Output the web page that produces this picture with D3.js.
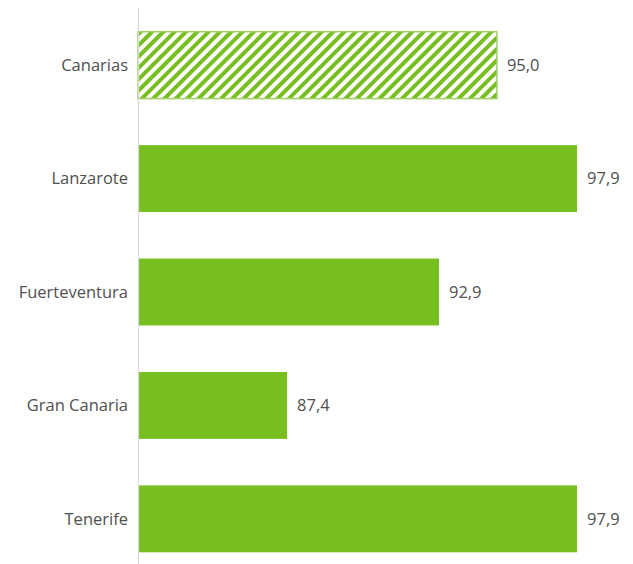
<!DOCTYPE html>
<html lang="es">
<head>
<meta charset="UTF-8">
<title>Canarias</title>
<script src="https://d3js.org/d3.v7.min.js"></script>
<style>
    body { margin: 0; background: #fff; }
    svg text {
        font-family: "Open Sans", sans-serif;
        font-size: 16.5px;
        fill: #505050;
    }
</style>
</head>
<body>
<div id="chart"></div>
<script>
    var islands = ["Canarias", "Lanzarote", "Fuerteventura", "Gran Canaria", "Tenerife"];
    var values = [95.0, 97.9, 92.9, 87.4, 97.9];
    var hatched = ["Canarias"];

    var width = 633, height = 564;
    var axisX = 138;

    var svg = d3.select("#chart").append("svg")
        .attr("width", width)
        .attr("height", height);

    // diagonal hatch for the regional total
    var defs = svg.append("defs");
    var pat = defs.append("pattern")
        .attr("id", "hatch")
        .attr("patternUnits", "userSpaceOnUse")
        .attr("width", 8)
        .attr("height", 8)
        .attr("patternTransform", "rotate(45)");
    pat.append("rect").attr("width", 8).attr("height", 8).attr("fill", "#fff");
    pat.append("rect").attr("width", 4).attr("height", 8).attr("fill", "#78be20");

    var x = d3.scaleLinear()
        .domain([82, 100])
        .range([axisX, 635]);

    var y = d3.scaleBand()
        .domain(islands)
        .range([9, 575])
        .paddingInner(0.41)
        .paddingOuter(0.2);

    var data = islands.map((d, i) => ({name: d, value: values[i]}));

    svg.append("g")
        .selectAll("rect")
        .data(data)
        .enter().append("rect")
            .attr("x", axisX)
            .attr("y", d => y(d.name))
            .attr("width", d => x(d.value) - axisX)
            .attr("height", y.bandwidth())
            .attr("fill", d => hatched.includes(d.name) ? "url(#hatch)" : "#78be20")
            .attr("stroke", d => hatched.includes(d.name) ? "#9fd167" : "none")
            .attr("stroke-width", 1.5);

    // category axis line
    svg.append("line")
        .attr("x1", axisX + 0.5).attr("x2", axisX + 0.5)
        .attr("y1", 8).attr("y2", height)
        .attr("stroke", "#d9d9d9")
        .attr("stroke-width", 1.2);

    svg.append("g")
        .selectAll("text")
        .data(data)
        .enter().append("text")
            .attr("x", 128)
            .attr("y", d => y(d.name) + y.bandwidth() / 2)
            .attr("dy", "0.35em")
            .attr("text-anchor", "end")
            .text(d => d.name);

    svg.append("g")
        .selectAll("text")
        .data(data)
        .enter().append("text")
            .attr("x", d => x(d.value) + 10)
            .attr("y", d => y(d.name) + y.bandwidth() / 2)
            .attr("dy", "0.35em")
            .text(d => d3.format(".1f")(d.value).replace(".", ","));
</script>
</body>
</html>
